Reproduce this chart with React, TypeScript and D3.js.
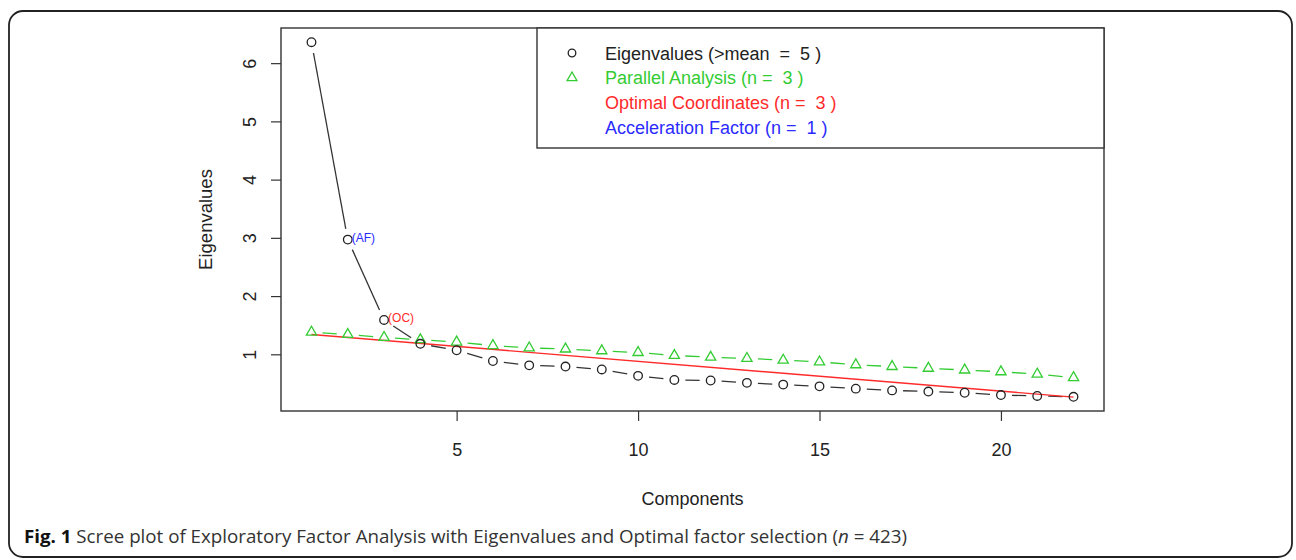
import { useEffect, useRef } from 'react'
import * as d3 from 'd3'

const components = [1, 2, 3, 4, 5, 6, 7, 8, 9, 10, 11, 12, 13, 14, 15, 16, 17, 18, 19, 20, 21, 22]
const eigenvalues = [6.36, 2.97, 1.59, 1.18, 1.07, 0.885, 0.81, 0.79, 0.74, 0.63, 0.56, 0.55, 0.51, 0.48, 0.45, 0.41, 0.38, 0.36, 0.34, 0.3, 0.285, 0.27]
const parallel = [1.38, 1.34, 1.29, 1.25, 1.21, 1.15, 1.11, 1.09, 1.06, 1.03, 0.98, 0.95, 0.93, 0.9, 0.87, 0.82, 0.79, 0.76, 0.73, 0.7, 0.66, 0.6]
const ocComponents = [1, 22]
const ocValues = [1.34, 0.265]
const xTicks = [5, 10, 15, 20]
const yTicks = [1, 2, 3, 4, 5, 6]
const legendItems = [
  { label: 'Eigenvalues (>mean  =  5 )', color: '#222', symbol: 'circle' },
  { label: 'Parallel Analysis (n =  3 )', color: '#33cc33', symbol: 'triangle' },
  { label: 'Optimal Coordinates (n =  3 )', color: '#ff2b2b', symbol: '' },
  { label: 'Acceleration Factor (n =  1 )', color: '#2b2bff', symbol: '' },
]
const annotations = [
  { label: '(AF)', component: 2, color: '#2b2bff' },
  { label: '(OC)', component: 3, color: '#ff2b2b' },
]

const FONT = '"Liberation Sans", Arial, Helvetica, sans-serif'

export default function App() {
  const svgRef = useRef<SVGSVGElement>(null)

  useEffect(() => {
    if (!svgRef.current) return
    const svg = d3.select(svgRef.current)
    svg.selectAll('*').remove()

    const box = { left: 281, right: 1104, top: 28, bottom: 411 }

    // R-style 4% padding on both axes
    const xr = d3.extent(components) as [number, number]
    const xpad = (xr[1] - xr[0]) * 0.04
    const x = d3.scaleLinear().domain([xr[0] - xpad, xr[1] + xpad]).range([box.left, box.right])
    const yr = d3.extent(eigenvalues) as [number, number]
    const ypad = (yr[1] - yr[0]) * 0.04
    const y = d3.scaleLinear().domain([yr[0] - ypad, yr[1] + ypad]).range([box.bottom, box.top])

    // outer figure frame
    svg.append('rect')
      .attr('x', 9).attr('y', 11).attr('width', 1283).attr('height', 546)
      .attr('rx', 14)
      .attr('fill', 'none').attr('stroke', '#222').attr('stroke-width', 1.8)

    // plot box
    svg.append('rect')
      .attr('x', box.left).attr('y', box.top)
      .attr('width', box.right - box.left).attr('height', box.bottom - box.top)
      .attr('fill', 'none').attr('stroke', '#333').attr('stroke-width', 1.4)

    // axes
    const xAxis = svg.append('g')
      .attr('transform', `translate(0,${box.bottom})`)
      .call(d3.axisBottom(x).tickValues(xTicks).tickSize(10).tickPadding(22))
    xAxis.select('.domain').remove()
    xAxis.selectAll('line').attr('stroke', '#333').attr('stroke-width', 1.2)
    xAxis.selectAll('text').attr('font-family', FONT).attr('font-size', 18).attr('fill', '#222')

    const yAxis = svg.append('g')
      .attr('transform', `translate(${box.left},0)`)
      .call(d3.axisLeft(y).tickValues(yTicks).tickSize(10).tickFormat(d3.format('d')))
    yAxis.select('.domain').remove()
    yAxis.selectAll('line').attr('stroke', '#333').attr('stroke-width', 1.2)
    yAxis.selectAll('text')
      .attr('font-family', FONT).attr('font-size', 18).attr('fill', '#222')
      .attr('x', null).attr('dy', null)
      .attr('text-anchor', 'middle')
      .attr('dominant-baseline', 'central')
      .attr('transform', `translate(-31,0) rotate(-90)`)

    svg.append('text')
      .attr('x', (box.left + box.right) / 2).attr('y', 505)
      .attr('text-anchor', 'middle')
      .attr('font-family', FONT).attr('font-size', 18).attr('fill', '#222')
      .text('Components')

    svg.append('text')
      .attr('transform', `translate(212,${(box.top + box.bottom) / 2}) rotate(-90)`)
      .attr('text-anchor', 'middle')
      .attr('font-family', FONT).attr('font-size', 18.5).attr('fill', '#222')
      .text('Eigenvalues')

    // legend
    const legend = svg.append('g')
    legend.append('rect')
      .attr('x', 537).attr('y', box.top).attr('width', box.right - 537).attr('height', 120)
      .attr('fill', 'white').attr('stroke', '#333').attr('stroke-width', 1.4)
    legendItems.forEach((item, i) => {
      const cy = 53 + i * 24.7
      if (item.symbol === 'circle') {
        legend.append('circle').attr('cx', 572).attr('cy', cy).attr('r', 3.8)
          .attr('fill', 'none').attr('stroke', item.color).attr('stroke-width', 1.3)
      } else if (item.symbol === 'triangle') {
        legend.append('path')
          .attr('d', d3.symbol(d3.symbolTriangle2, 70)() as string)
          .attr('transform', `translate(572,${cy})`)
          .attr('fill', 'none').attr('stroke', item.color).attr('stroke-width', 1.3)
      }
      legend.append('text')
        .attr('x', 605).attr('y', cy + 6.5)
        .attr('font-family', FONT).attr('font-size', 18).attr('fill', item.color)
        .style('white-space', 'pre')
        .text(item.label)
    })

    // type="b" connecting segments with gaps around points
    const gap = 11
    const gapped = (xs: number[], ys: number[], color: string) => {
      for (let i = 0; i < xs.length - 1; i++) {
        const x1 = x(xs[i]), y1 = y(ys[i]), x2 = x(xs[i + 1]), y2 = y(ys[i + 1])
        const d = Math.hypot(x2 - x1, y2 - y1)
        if (d <= gap * 2) continue
        const ux = (x2 - x1) / d, uy = (y2 - y1) / d
        svg.append('line')
          .attr('x1', x1 + ux * gap).attr('y1', y1 + uy * gap)
          .attr('x2', x2 - ux * gap).attr('y2', y2 - uy * gap)
          .attr('stroke', color).attr('stroke-width', 1.3)
      }
    }

    gapped(components, parallel, '#33cc33')
    gapped(components, eigenvalues, '#333')

    // optimal coordinates line
    svg.append('path')
      .datum(ocComponents.map((c, i) => [c, ocValues[i]] as [number, number]))
      .attr('d', d3.line<[number, number]>().x(d => x(d[0])).y(d => y(d[1])))
      .attr('fill', 'none').attr('stroke', '#ff2b2b').attr('stroke-width', 1.4)

    svg.append('g').selectAll('path')
      .data(components)
      .join('path')
      .attr('d', d3.symbol(d3.symbolTriangle2, 75)() as string)
      .attr('transform', (d, i) => `translate(${x(d)},${y(parallel[i])})`)
      .attr('fill', 'none').attr('stroke', '#33cc33').attr('stroke-width', 1.3)

    svg.append('g').selectAll('circle')
      .data(components)
      .join('circle')
      .attr('cx', d => x(d))
      .attr('cy', (d, i) => y(eigenvalues[i]))
      .attr('r', 4.3)
      .attr('fill', 'none').attr('stroke', '#222').attr('stroke-width', 1.3)

    annotations.forEach(a => {
      svg.append('text')
        .attr('x', x(a.component) + 4).attr('y', y(eigenvalues[a.component - 1]) + 2)
        .attr('font-family', FONT).attr('font-size', 12).attr('fill', a.color)
        .text(a.label)
    })

    // caption
    const caption = svg.append('text')
      .attr('x', 24).attr('y', 543)
      .attr('font-family', '"Open Sans", sans-serif').attr('font-size', 17.5).attr('fill', '#333')
      .attr('textLength', 883).attr('lengthAdjust', 'spacingAndGlyphs')
    caption.append('tspan').attr('font-weight', 'bold').attr('fill', '#111').text('Fig. 1')
    caption.append('tspan').text(' Scree plot of Exploratory Factor Analysis with Eigenvalues and Optimal factor selection (')
    caption.append('tspan').attr('font-style', 'italic').text('n')
    caption.append('tspan').text(' = 423)')
  }, [])

  return (
    <div style={{ position: 'fixed', left: 0, top: 0 }}>
      <svg ref={svgRef} width={1296} height={560} style={{ display: 'block', background: 'white' }}></svg>
    </div>
  )
}
